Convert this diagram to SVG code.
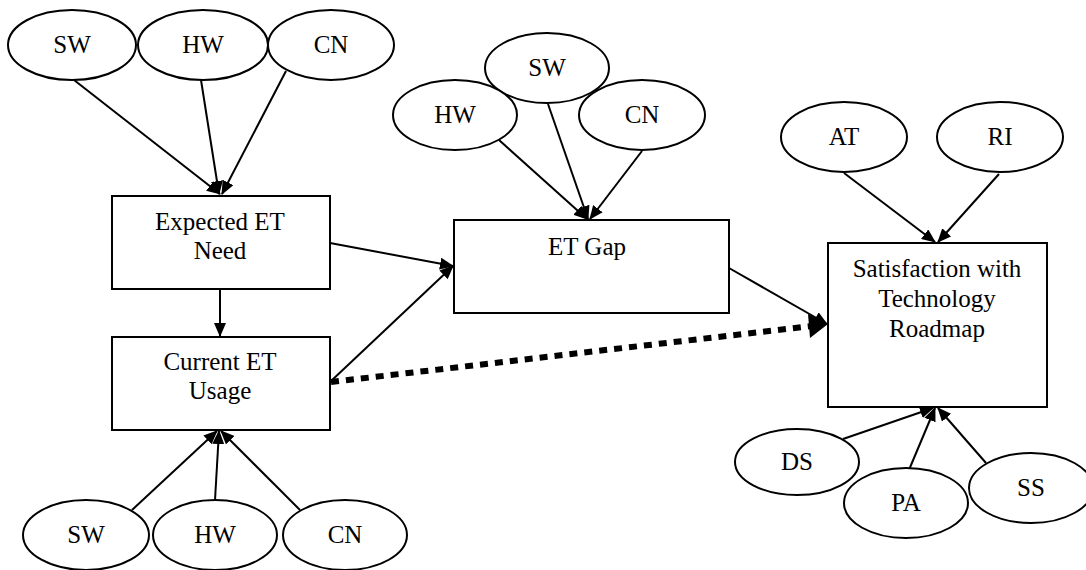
<svg xmlns="http://www.w3.org/2000/svg" width="1086" height="570" viewBox="0 0 1086 570">
<style>
.n{fill:#fff;stroke:#000;stroke-width:2}
.t{font-family:'Liberation Serif','DejaVu Serif',serif;font-size:25px;fill:#000;text-anchor:middle}
.e{stroke:#000;stroke-width:2;fill:none;marker-end:url(#ah)}
.d{stroke:#000;stroke-width:6;fill:none;stroke-dasharray:8 7}
</style>
<defs>
<marker id="ah" markerUnits="userSpaceOnUse" markerWidth="14" markerHeight="12" refX="13" refY="6" orient="auto">
<path d="M0,0 L14,6 L0,12 z" fill="#000"/>
</marker>
</defs>
<rect width="1086" height="570" fill="#fff"/>
<g id="connectors">
<line class="e" x1="74" y1="80" x2="220" y2="194"/>
<line class="e" x1="201" y1="80" x2="219" y2="194"/>
<line class="e" x1="286" y1="71" x2="222" y2="194"/>
<line class="e" x1="220" y1="289" x2="220" y2="336"/>
<line class="e" x1="330" y1="243" x2="453" y2="266"/>
<line class="e" x1="330" y1="382" x2="453" y2="266"/>
<line class="e" x1="499" y1="140" x2="587" y2="219"/>
<line class="e" x1="548" y1="104" x2="588" y2="219"/>
<line class="e" x1="642" y1="151" x2="590" y2="219"/>
<line class="e" x1="132" y1="510" x2="217" y2="431"/>
<line class="e" x1="215" y1="500" x2="219" y2="431"/>
<line class="e" x1="300" y1="510" x2="221" y2="431"/>
<line class="e" x1="729" y1="268" x2="827" y2="324"/>
<line class="d" x1="331" y1="382" x2="812" y2="326"/>
<path d="M808,314 L828,324 L810,338 z" fill="#000"/>
<line class="e" x1="844" y1="173" x2="935" y2="242"/>
<line class="e" x1="999" y1="174" x2="938" y2="242"/>
<line class="e" x1="843" y1="439" x2="933" y2="408"/>
<line class="e" x1="906" y1="477" x2="935" y2="408"/>
<line class="e" x1="986" y1="463" x2="938" y2="408"/>
</g>
<g id="sw1"><ellipse class="n" cx="72" cy="45" rx="64" ry="35"/><text class="t" x="72" y="53">SW</text></g>
<g id="hw1"><ellipse class="n" cx="203" cy="45" rx="65" ry="35"/><text class="t" x="203" y="53">HW</text></g>
<g id="cn1"><ellipse class="n" cx="331" cy="45" rx="63" ry="35"/><text class="t" x="331" y="53">CN</text></g>
<g id="expected"><rect class="n" x="112" y="196" width="218" height="93"/><text class="t" x="220" y="230">Expected ET</text><text class="t" x="220" y="259">Need</text></g>
<g id="current"><rect class="n" x="112" y="337" width="218" height="93"/><text class="t" x="220" y="370">Current ET</text><text class="t" x="220" y="399">Usage</text></g>
<g id="sw2"><ellipse class="n" cx="86" cy="535" rx="63" ry="35"/><text class="t" x="86" y="543">SW</text></g>
<g id="hw2"><ellipse class="n" cx="215" cy="535" rx="62" ry="35"/><text class="t" x="215" y="543">HW</text></g>
<g id="cn2"><ellipse class="n" cx="345" cy="535" rx="62" ry="35"/><text class="t" x="345" y="543">CN</text></g>
<g id="gap"><rect class="n" x="454" y="220" width="275" height="93"/><text class="t" x="587" y="255">ET Gap</text></g>
<g id="sw3"><ellipse class="n" cx="547" cy="68" rx="62" ry="35"/><text class="t" x="547" y="76">SW</text></g>
<g id="hw3"><ellipse class="n" cx="455" cy="115" rx="62" ry="35"/><text class="t" x="455" y="123">HW</text></g>
<g id="cn3"><ellipse class="n" cx="642" cy="115" rx="63" ry="35"/><text class="t" x="642" y="123">CN</text></g>
<g id="sat"><rect class="n" x="828" y="243" width="219" height="164"/><text class="t" x="937" y="277">Satisfaction with</text><text class="t" x="937" y="307">Technology</text><text class="t" x="937" y="337">Roadmap</text></g>
<g id="at"><ellipse class="n" cx="844" cy="137" rx="63" ry="35"/><text class="t" x="844" y="145">AT</text></g>
<g id="ri"><ellipse class="n" cx="1000" cy="137" rx="63" ry="35"/><text class="t" x="1000" y="145">RI</text></g>
<g id="ds"><ellipse class="n" cx="797" cy="462" rx="62" ry="33"/><text class="t" x="797" y="470">DS</text></g>
<g id="pa"><ellipse class="n" cx="906" cy="503" rx="62" ry="35"/><text class="t" x="906" y="511">PA</text></g>
<g id="ss"><ellipse class="n" cx="1031" cy="488" rx="62" ry="35"/><text class="t" x="1031" y="496">SS</text></g>
</svg>
